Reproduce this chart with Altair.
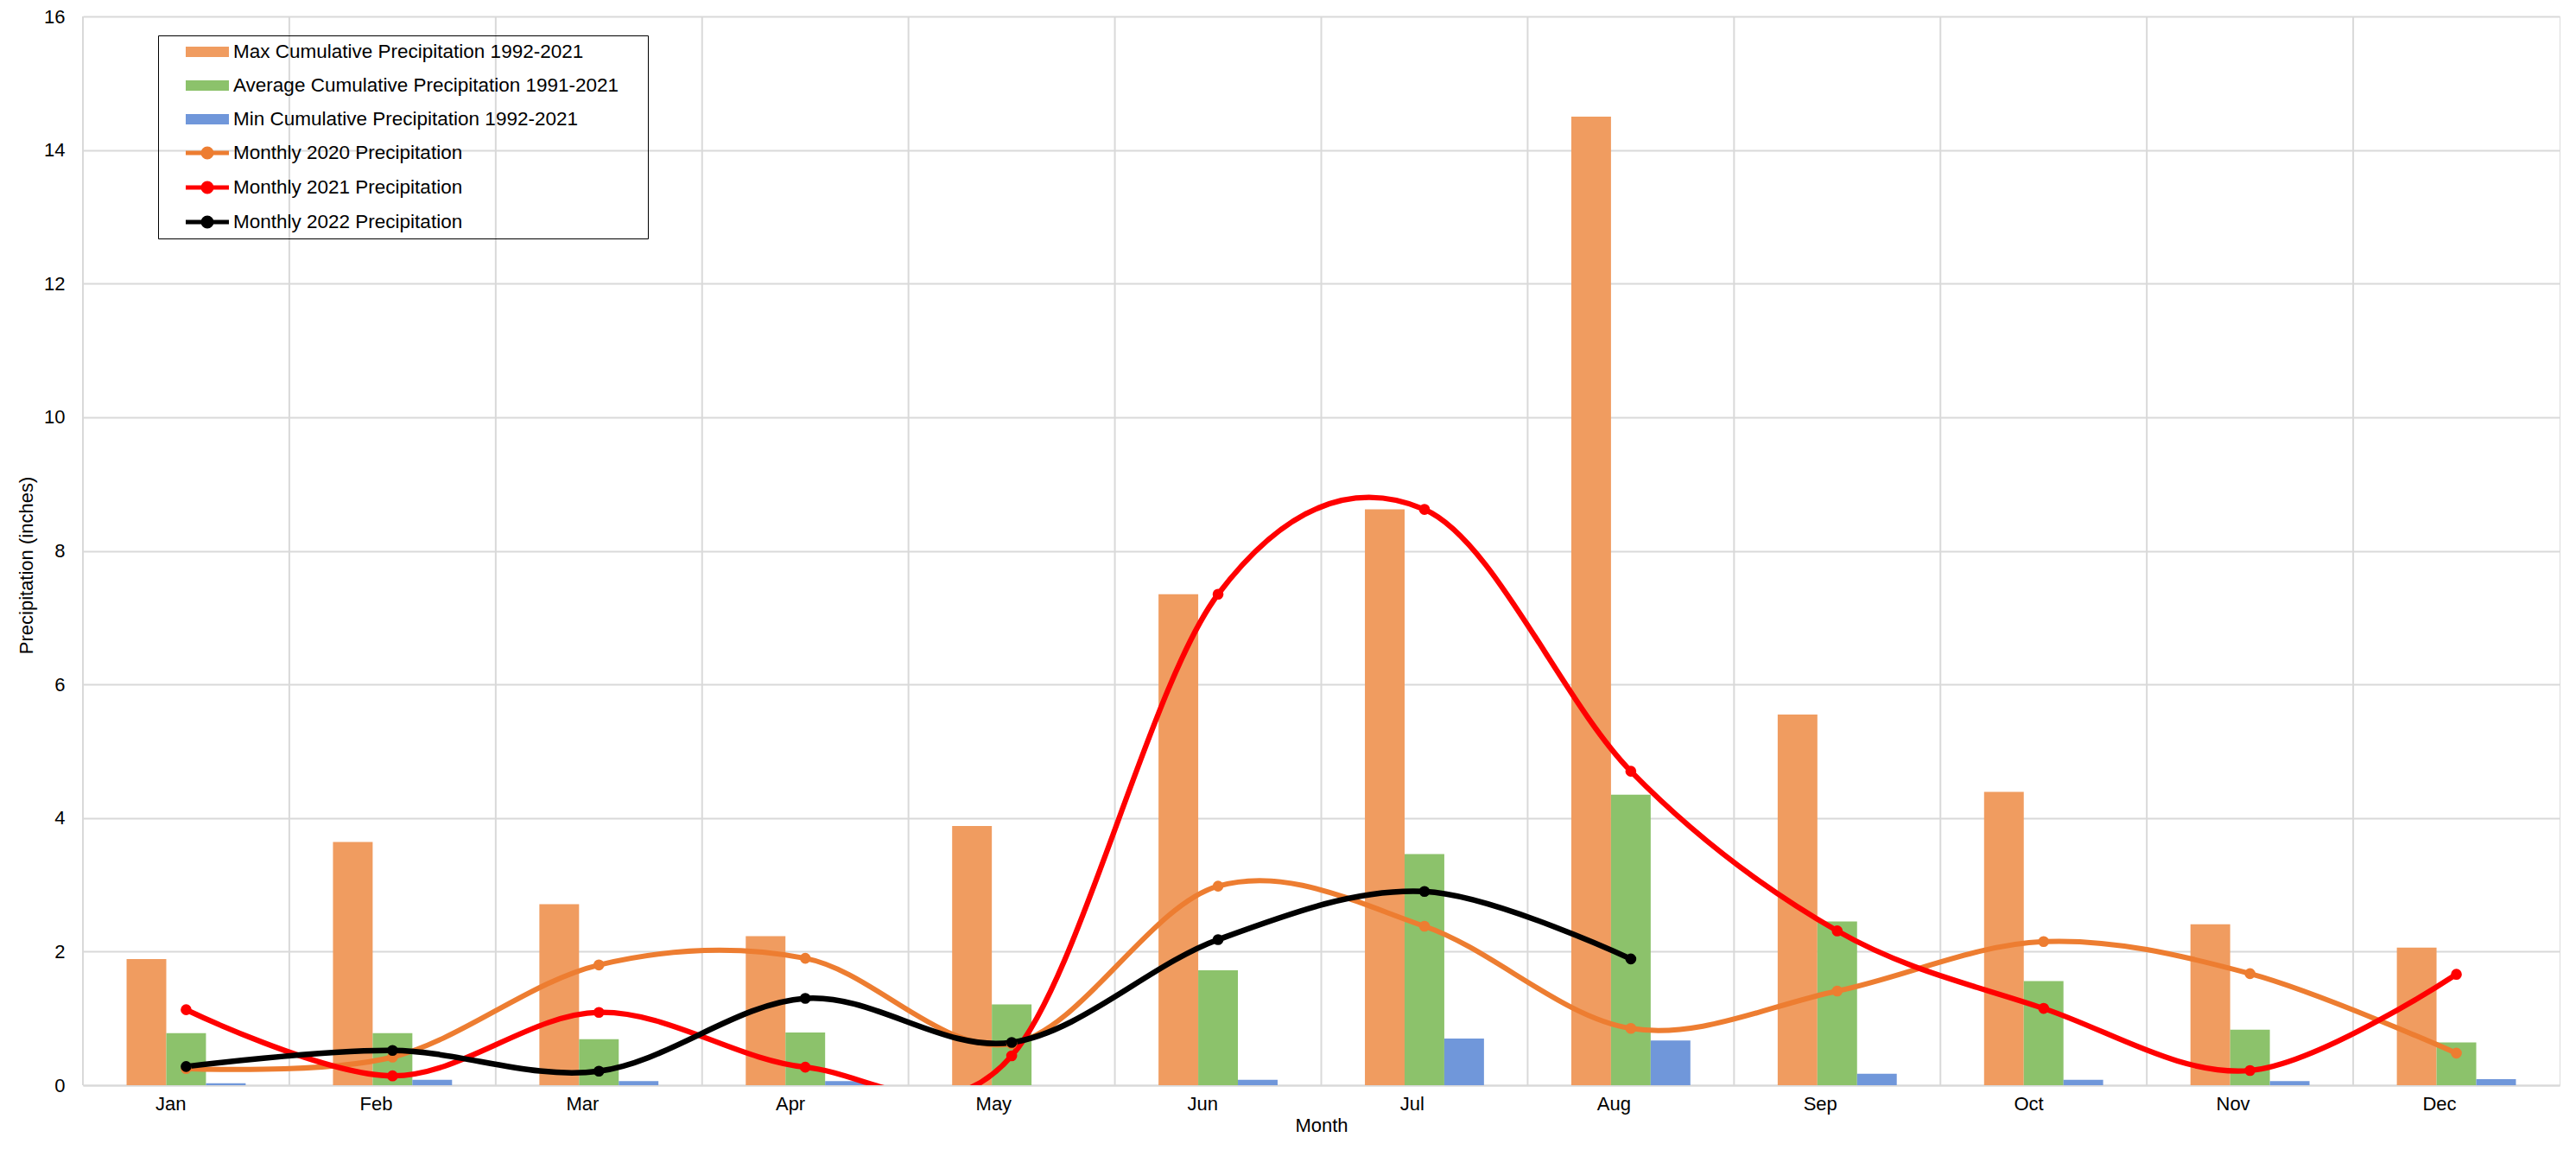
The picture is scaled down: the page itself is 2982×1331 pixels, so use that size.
import altair as alt
import pandas as pd

months = ["Jan", "Feb", "Mar", "Apr", "May", "Jun", "Jul", "Aug", "Sep", "Oct", "Nov", "Dec"]

bar_series = [
    "Max Cumulative Precipitation 1992-2021",
    "Average Cumulative Precipitation 1991-2021",
    "Min Cumulative Precipitation 1992-2021",
]
line_series = [
    "Monthly 2020 Precipitation",
    "Monthly 2021 Precipitation",
    "Monthly 2022 Precipitation",
]

max_vals = [1.89, 3.64, 2.71, 2.23, 3.88, 7.35, 8.62, 14.5, 5.55, 4.39, 2.41, 2.06]
avg_vals = [0.78, 0.78, 0.69, 0.79, 1.21, 1.72, 3.46, 4.35, 2.45, 1.56, 0.83, 0.64]
min_vals = [0.03, 0.08, 0.06, 0.06, 0.0, 0.08, 0.70, 0.67, 0.17, 0.08, 0.06, 0.09]

p2020 = [0.25, 0.42, 1.80, 1.90, 0.62, 2.98, 2.38, 0.85, 1.41, 2.15, 1.67, 0.48]
p2021 = [1.13, 0.14, 1.09, 0.27, 0.44, 7.35, 8.62, 4.70, 2.31, 1.15, 0.22, 1.66]
p2022 = [0.28, 0.52, 0.21, 1.30, 0.64, 2.18, 2.90, 1.89]

colors = ["#F09C60", "#8CC26B", "#7097DA", "#ED7D31", "#FF0000", "#000000"]
line_widths = [6, 6.5, 7.5]

bar_rows = []
for s, vals in zip(bar_series, [max_vals, avg_vals, min_vals]):
    for m, v in zip(months, vals):
        bar_rows.append({"month": m, "series": s, "value": v})
bars_df = pd.DataFrame(bar_rows)

line_rows = []
for s, vals in zip(line_series, [p2020, p2021, p2022]):
    for m, v in zip(months, vals):
        line_rows.append({"month": m, "series": s, "value": v})
lines_df = pd.DataFrame(line_rows)

grid_df = pd.DataFrame({"month": months})

all_series = bar_series + line_series
FONT = "Liberation Sans"

# legend symbol outlines (unit = 12.5 px)
bar_path = "M-1.8,-0.28H1.8V0.28H-1.8Z"
line_path = "M-2,0H2M0.4,0A0.4,0.4,0,1,1,-0.4,0A0.4,0.4,0,1,1,0.4,0Z"

color_scale = alt.Scale(domain=all_series, range=colors)
legend = alt.Legend(
    title=" ",
    titleOrient="right",
    titlePadding=30,
    titleFontSize=22,
    titleFont=FONT,
    orient="none",
    legendX=87,
    legendY=22,
    direction="vertical",
    labelFont=FONT,
    labelFontSize=22.5,
    labelColor="#000000",
    labelLimit=1000,
    symbolSize=625,
    symbolStrokeWidth=5,
    symbolOpacity=1,
    symbolType={"expr": "indexof(datum.value, 'Monthly') == 0 ? '" + line_path + "' : '" + bar_path + "'"},
    symbolOffset=38,
    labelOffset=15,
    rowPadding=10,
    padding=4,
    strokeColor="#000000",
    values=all_series,
)

x_enc = alt.X(
    "month:N",
    sort=months,
    scale=alt.Scale(paddingInner=0, paddingOuter=0),
    axis=alt.Axis(
        title="Month",
        labelAngle=0,
        grid=False,
        ticks=False,
        domainColor="#D9D9D9",
        domainWidth=2,
        labelFont=FONT,
        labelFontSize=22,
        labelColor="#000000",
        labelPadding=21,
        titleFont=FONT,
        titleFontSize=22,
        titleFontWeight="normal",
        titleColor="#000000",
        titleY=46,
        titleBaseline="middle",
    ),
)

y_enc = alt.Y(
    "value:Q",
    scale=alt.Scale(domain=[0, 16], nice=False),
    axis=alt.Axis(
        title="Precipitation (inches)",
        values=list(range(0, 17, 2)),
        format="d",
        grid=True,
        gridColor="#D9D9D9",
        gridWidth=2,
        ticks=False,
        domain=False,
        labelFont=FONT,
        labelFontSize=22,
        labelColor="#000000",
        labelPadding=21,
        titleFont=FONT,
        titleFontSize=22,
        titleFontWeight="normal",
        titleColor="#000000",
        titleX=-66,
        titleY=635,
        titleAngle=-90,
        titleAlign="center",
        titleBaseline="middle",
    ),
)

grid = alt.Chart(grid_df).mark_rule(color="#D9D9D9", strokeWidth=2).encode(
    x=alt.X("month:N", sort=months, bandPosition=0)
)

offset_domain = ["_pad_left"] + bar_series + ["_pad_right"]
bars = alt.Chart(bars_df).mark_bar().encode(
    x=x_enc,
    xOffset=alt.XOffset("series:N", scale=alt.Scale(domain=offset_domain, paddingInner=0, paddingOuter=0.1)),
    y=y_enc,
    color=alt.Color("series:N", scale=color_scale, legend=legend, sort=all_series),
)

lines = alt.Chart(lines_df).mark_line(interpolate="cardinal", clip=True).encode(
    x=alt.X("month:N", sort=months),
    y=alt.Y("value:Q"),
    color=alt.Color("series:N", scale=color_scale, legend=legend, sort=all_series),
    strokeWidth=alt.StrokeWidth("series:N", scale=alt.Scale(domain=line_series, range=line_widths), legend=None),
    order=alt.Order("series:N"),
)

points = alt.Chart(lines_df).mark_circle(size=160, opacity=1, clip=True).encode(
    x=alt.X("month:N", sort=months),
    y=alt.Y("value:Q"),
    color=alt.Color("series:N", scale=color_scale, legend=legend, sort=all_series),
)

chart = alt.layer(grid, bars, lines, points).properties(
    width=2867,
    height=1237,
    autosize="none",
    padding={"left": 88, "top": 11, "right": 10, "bottom": 60},
).configure_view(stroke="#D9D9D9", strokeWidth=2).configure(background="white")

chart.save("out.html", embed_options={"renderer": "svg", "actions": False})
